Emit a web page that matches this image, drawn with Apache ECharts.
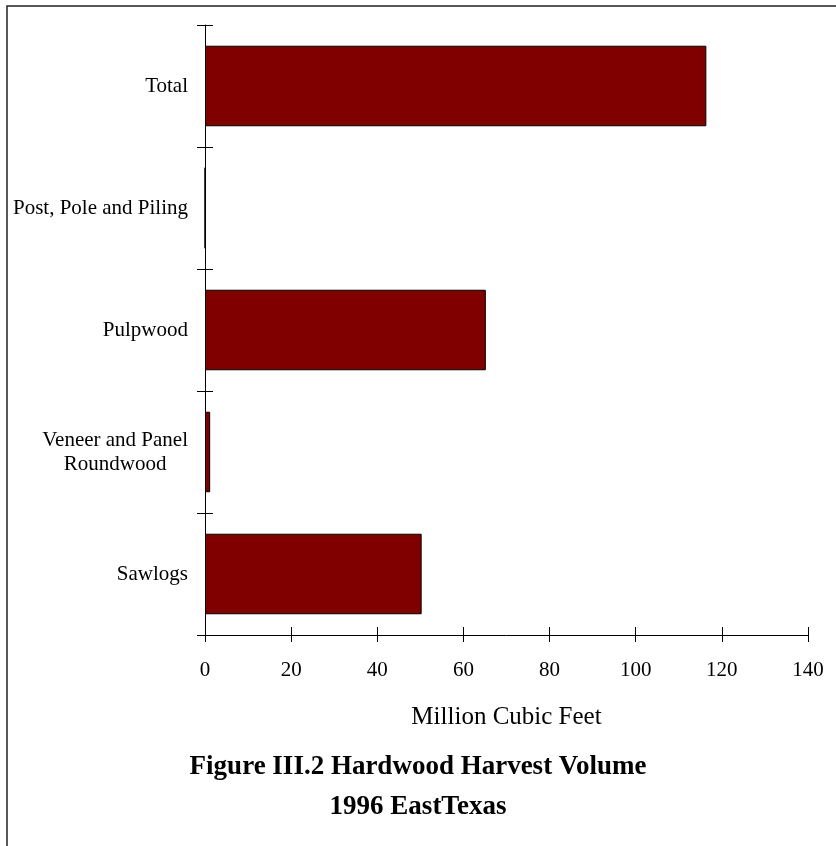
<!DOCTYPE html>
<html>
<head>
<meta charset="utf-8">
<script src="https://cdn.jsdelivr.net/npm/echarts@6/dist/echarts.min.js"></script>
<style>
  html, body { margin: 0; padding: 0; background: #fff; }
  #chart { width: 836px; height: 846px; }
</style>
</head>
<body>
<div id="chart"></div>
<script>
// Harvest categories, listed bottom to top as drawn on the vertical axis
const categories = [
  'Sawlogs',
  'Veneer and Panel\nRoundwood',
  'Pulpwood',
  'Post, Pole and Piling',
  'Total'
];
// Hardwood harvest volume, million cubic feet
const volumes = [50.3, 1.2, 65.2, 0, 116.4];
const xTicks = { min: 0, max: 140, step: 20 };

const SERIF = '"Liberation Serif", "Times New Roman", serif';
const chart = echarts.init(document.getElementById('chart'), null, { renderer: 'canvas' });

const gridBox = { left: 205, right: 28, top: 25, bottom: 211 };

const option = {
  backgroundColor: '#fff',
  animation: false,
  title: {
    text: 'Figure III.2 Hardwood Harvest Volume\n1996 EastTexas',
    left: 'center',
    top: 747,
    padding: 0,
    textStyle: {
      fontFamily: SERIF,
      fontWeight: 'bold',
      fontSize: 27,
      lineHeight: 40,
      color: '#000'
    }
  },
  graphic: [{
    type: 'rect',
    silent: true,
    z: -1,
    shape: { x: 7, y: 6, width: 900, height: 900 },
    style: { fill: null, stroke: '#222', lineWidth: 1.5 }
  }],
  grid: Object.assign({ containLabel: false, outerBoundsMode: 'none' }, gridBox),
  xAxis: [{
    type: 'value',
    position: 'bottom',
    min: xTicks.min,
    max: xTicks.max,
    interval: xTicks.step,
    name: 'Million Cubic Feet',
    nameLocation: 'middle',
    nameGap: 70,
    nameTextStyle: { fontFamily: SERIF, fontSize: 25, color: '#000' },
    axisLine: { show: true, lineStyle: { color: '#000', width: 1 } },
    axisTick: { show: true, length: 7, inside: false, lineStyle: { color: '#000' } },
    axisLabel: { margin: 25, fontFamily: SERIF, fontSize: 21, color: '#000' },
    splitLine: { show: false }
  }, {
    type: 'value',
    position: 'bottom',
    min: xTicks.min,
    max: xTicks.max,
    interval: xTicks.step,
    axisLine: { show: false },
    axisTick: { show: true, length: 8, inside: true, lineStyle: { color: '#000' } },
    axisLabel: { show: false },
    splitLine: { show: false }
  }],
  yAxis: [{
    type: 'category',
    position: 'left',
    data: categories,
    axisLine: { show: true, lineStyle: { color: '#000', width: 1 } },
    axisTick: { show: true, length: 8, inside: false, lineStyle: { color: '#000' } },
    axisLabel: {
      margin: 17,
      color: '#000',
      fontFamily: SERIF,
      fontSize: 21,
      formatter: function (v) {
        return v.split('\n').map(function (s) { return '{c|' + s + '}'; }).join('\n');
      },
      rich: {
        c: { align: 'center', fontFamily: SERIF, fontSize: 21, lineHeight: 24, color: '#000' }
      }
    }
  }, {
    type: 'category',
    position: 'left',
    data: categories,
    axisLine: { show: false },
    axisTick: { show: true, length: 8, inside: true, lineStyle: { color: '#000' } },
    axisLabel: { show: false }
  }],
  series: [{
    type: 'bar',
    xAxisIndex: 0,
    yAxisIndex: 0,
    data: volumes,
    barCategoryGap: '34%',
    itemStyle: { color: '#800000', borderColor: '#000', borderWidth: 1 }
  }]
};

chart.setOption(option);
</script>
</body>
</html>
